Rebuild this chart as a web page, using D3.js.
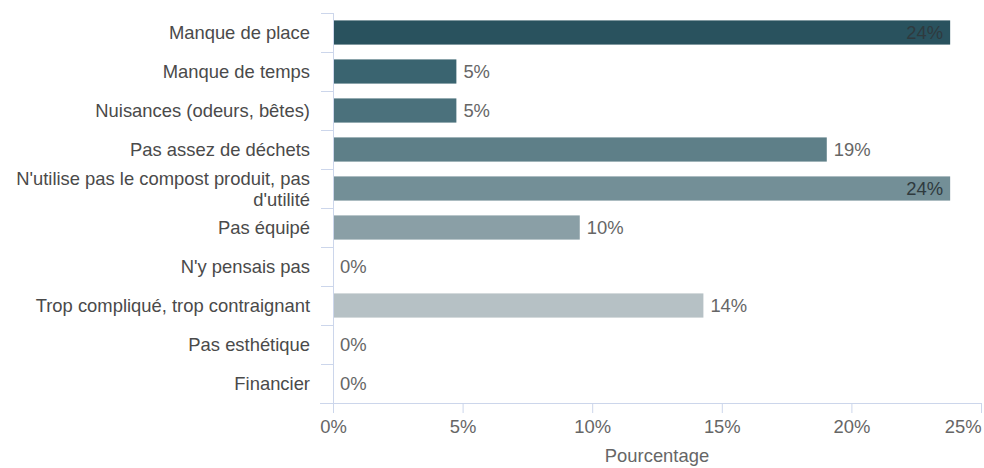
<!DOCTYPE html>
<html><head><meta charset="utf-8">
<script src="https://cdn.jsdelivr.net/npm/d3@7"></script>
<style>body{margin:0;background:#fff}svg{display:block}text{font-family:"Liberation Sans",Arial,sans-serif}</style>
</head><body><svg id="c" width="984" height="468"></svg>
<script>
const categories = ["Manque de place","Manque de temps","Nuisances (odeurs, bêtes)","Pas assez de déchets","N'utilise pas le compost produit, pas d'utilité","Pas équipé","N'y pensais pas","Trop compliqué, trop contraignant","Pas esthétique","Financier"];
const values = [23.81,4.76,4.76,19.05,23.81,9.52,0,14.29,0,0];
const xTicks = [0,5,10,15,20,25];
const palette = ["#29525e","#3a6470","#4b717c","#5e7f88","#738f97","#8a9fa6","#a0b0b5","#b6c1c5","#c8d0d3","#d8dee0"];

const FS = "18.4px";
const svg = d3.select("#c");
const m = {l:333, r:981, t:13, b:403};
const x = d3.scaleLinear().domain([0,25]).range([m.l, m.r]);
const y = d3.scaleBand().domain(categories).range([m.t, m.b]).paddingInner(0.38).paddingOuter(0.19);
const band = d3.scaleBand().domain(categories).range([m.t, m.b]);

// y axis line and ticks between categories
svg.append("line").attr("x1",m.l+0.5).attr("x2",m.l+0.5).attr("y1",m.t).attr("y2",m.b).attr("stroke","#ccd6eb");
svg.selectAll(".yt").data(categories).join("line")
  .attr("x1",m.l-12).attr("x2",m.l).attr("y1",d=>Math.round(band(d))+0.5).attr("y2",d=>Math.round(band(d))+0.5)
  .attr("stroke","#ccd6eb");

// x axis
const xa = svg.append("g").attr("transform",`translate(0,${m.b})`)
  .call(d3.axisBottom(x).tickValues(xTicks).tickFormat(d=>d+"%").tickSize(10).tickPadding(8));
xa.select(".domain").attr("stroke","#ccd6eb").attr("d",`M${m.l-13},0.5H${m.r}`);
xa.selectAll(".tick line").attr("stroke","#ccd6eb");
xa.selectAll(".tick text").attr("fill","#666").attr("y",30).attr("dy",0).style("font-size",FS).style("font-family","Liberation Sans, Arial");
xa.selectAll(".tick text").filter(d=>d===25).attr("text-anchor","end").attr("dx","0");

svg.append("text").attr("x",(m.l+m.r)/2).attr("y",462).attr("text-anchor","middle")
  .attr("fill","#666").style("font-size",FS).text("Pourcentage");

// bars
svg.selectAll(".bar").data(categories).join("rect")
  .attr("x",x(0)+1).attr("y",d=>y(d)).attr("height",y.bandwidth())
  .attr("width",(d,i)=>Math.max(0,x(values[i])-x(0)-1))
  .attr("fill",(d,i)=>palette[i]);

// category labels
const lab = svg.selectAll(".cl").data(categories).join("text")
  .attr("text-anchor","end").attr("fill","#4a4a4a").style("font-size",FS);
lab.each(function(d){
  const t = d3.select(this);
  const cy = band(d)+band.bandwidth()/2;
  if (d.length > 36) {
    const parts = ["N'utilise pas le compost produit, pas","d'utilité"];
    parts.forEach((p,k)=>t.append("tspan").attr("x",310).attr("y",cy-10.5+k*21+7).text(p));
  } else {
    t.attr("x",310).attr("y",cy+6).text(d);
  }
});

// data labels
svg.selectAll(".dl").data(categories).join("text")
  .each(function(d,i){
    const v = values[i];
    const t = d3.select(this).style("font-size",FS).attr("y",y(d)+y.bandwidth()/2+6);
    const txt = Math.round(v)+"%";
    if (x(v) > m.r - 50) {
      t.attr("x",x(v)-7).attr("text-anchor","end").attr("fill","#2f3a3e").text(txt);
    } else {
      t.attr("x",x(v)+7).attr("text-anchor","start").attr("fill","#666").text(txt);
    }
  });
</script></body></html>
